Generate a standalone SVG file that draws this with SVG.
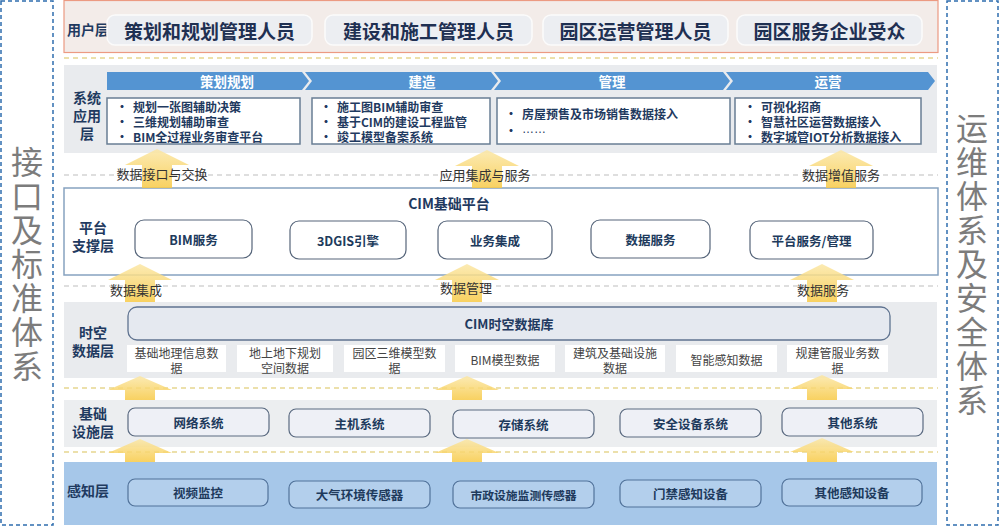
<svg xmlns="http://www.w3.org/2000/svg" width="1000" height="527" viewBox="0 0 1000 527">
<defs>
<linearGradient id="ag" x1="0" y1="0" x2="0" y2="1">
<stop offset="0" stop-color="#fbe7a6"/>
<stop offset="1" stop-color="#f7c945"/>
</linearGradient>
</defs>
<style>
text{font-family:'Noto Sans CJK SC','Noto Sans',sans-serif;dominant-baseline:central;text-anchor:middle}
.side{font-size:32px;fill:#7c7c7c;writing-mode:vertical-rl;letter-spacing:2px}
.sideBox{fill:none;stroke:#2f6eae;stroke-width:1.5;stroke-dasharray:4 3}
.lay{font-size:14px;font-weight:bold;fill:#1f3a60}
.user{font-size:19px;font-weight:bold;fill:#1f3052}
.pill{fill:#eceef2;stroke:#fbfbfb;stroke-width:1.5}
.band{fill:#e9ebee}
.chev{fill:#5494d2}
.chevT{font-size:13.5px;font-weight:bold;fill:#ffffff}
.cbox{fill:#ffffff;stroke:#687e94;stroke-width:1.5}
.bul{font-size:12px;font-weight:bold;fill:#1f3a60;text-anchor:start}
.dash-g{stroke:#bdbdbd;stroke-width:1;stroke-dasharray:5 4;fill:none}
.dash-y{stroke:#e6d690;stroke-width:1.5;stroke-dasharray:5 4;fill:none}
.arr{fill:url(#ag);opacity:0.85}
.lbl{font-size:13px;fill:#333333}
.pnode{fill:#ffffff;stroke:#56657a;stroke-width:1.2}
.ntxt{font-size:12.5px;font-weight:bold;fill:#203a5c}
.ditem{fill:#ffffff}
.dtxt{font-size:12px;fill:#444444}
.inode{fill:#eef0f6;stroke:#5a6a80;stroke-width:1.2}
.snode{fill:#b3cfec;stroke:#51729a;stroke-width:1.2}
</style>

<!-- side columns -->
<g id="left-standards">
<rect class="sideBox" x="1" y="1" width="52" height="524"/>
<text class="side" x="27" y="265">接口及标准体系</text>
</g>
<g id="right-ops-security">
<rect class="sideBox" x="947" y="1" width="51" height="524"/>
<text class="side" x="972" y="265">运维体系及安全体系</text>
</g>

<!-- user layer -->
<g id="user-layer">
<rect x="64" y="0.5" width="874" height="52" fill="#f3ece9" stroke="#ec9a82" stroke-width="1.2"/>
<text class="lay" x="88" y="29">用户层</text>
<g id="u1"><rect class="pill" x="107" y="15" width="205" height="30" rx="8"/><text class="user" x="209.5" y="30">策划和规划管理人员</text></g>
<g id="u2"><rect class="pill" x="325" y="15" width="207" height="30" rx="8"/><text class="user" x="428.5" y="30">建设和施工管理人员</text></g>
<g id="u3"><rect class="pill" x="543" y="15" width="185" height="30" rx="8"/><text class="user" x="635.5" y="30">园区运营管理人员</text></g>
<g id="u4"><rect class="pill" x="737" y="15" width="185" height="30" rx="8"/><text class="user" x="829.5" y="30">园区服务企业受众</text></g>
</g>

<!-- bands -->
<g id="bands">
<rect class="band" x="64" y="65" width="873" height="88"/>
<rect x="64" y="188" width="874" height="87" fill="#ffffff" stroke="#86a2c0" stroke-width="1.5"/>
<rect class="band" x="64" y="302" width="873" height="76"/>
<rect x="64" y="400" width="873" height="47" fill="#eceef0"/>
<rect x="64" y="462" width="873" height="63" fill="#a6c7e9"/>
</g>

<!-- connectors: dashed separators and up arrows -->
<g id="connectors">
<line class="dash-y" x1="64" y1="58" x2="938" y2="58"/>
<line class="dash-g" x1="64" y1="175" x2="938" y2="175"/>
<line class="dash-g" x1="64" y1="286" x2="938" y2="286"/>
<line class="dash-y" x1="64" y1="388" x2="938" y2="388"/>
<line class="dash-y" x1="64" y1="452" x2="938" y2="452"/>

<path class="arr" d="M157,149 L189,165 L172,165 L172,188 L142,188 L142,165 L125,165 Z"/>
<path class="arr" d="M487,150 L519,166 L502,166 L502,188 L472,188 L472,166 L455,166 Z"/>
<path class="arr" d="M841,150 L873,166 L856,166 L856,188 L826,188 L826,166 L809,166 Z"/>

<path class="arr" d="M140,264 L172,280 L155,280 L155,302 L125,302 L125,280 L108,280 Z"/>
<path class="arr" d="M467,264 L499,280 L482,280 L482,302 L452,302 L452,280 L435,280 Z"/>
<path class="arr" d="M822,264 L854,280 L837,280 L837,302 L807,302 L807,280 L790,280 Z"/>

<path class="arr" d="M140,376 L172,390 L155,390 L155,400 L125,400 L125,390 L108,390 Z"/>
<path class="arr" d="M467,376 L499,390 L482,390 L482,400 L452,400 L452,390 L435,390 Z"/>
<path class="arr" d="M822,375 L854,389 L837,389 L837,400 L807,400 L807,389 L790,389 Z"/>

<path class="arr" d="M140,439 L172,453 L155,453 L155,462 L125,462 L125,453 L108,453 Z"/>
<path class="arr" d="M467,439 L499,453 L482,453 L482,462 L452,462 L452,453 L435,453 Z"/>
<path class="arr" d="M822,438 L854,452 L837,452 L837,462 L807,462 L807,452 L790,452 Z"/>

<text class="lbl" x="162" y="173">数据接口与交换</text>
<text class="lbl" x="485" y="174">应用集成与服务</text>
<text class="lbl" x="841" y="174">数据增值服务</text>
<text class="lbl" x="136" y="289">数据集成</text>
<text class="lbl" x="466" y="287">数据管理</text>
<text class="lbl" x="823" y="289">数据服务</text>
</g>

<!-- system application layer -->
<g id="app-layer">
<text class="lay"><tspan x="87" y="97">系统</tspan><tspan x="87" y="115">应用</tspan><tspan x="87" y="133">层</tspan></text>
<g id="stage-plan">
<polygon class="chev" points="107,72 302,72 309,81 302,90 107,90"/>
<text class="chevT" x="227" y="81">策划规划</text>
<rect class="cbox" x="107" y="98" width="193" height="46"/>
<text class="bul"><tspan x="116" y="106">•</tspan><tspan x="133" y="106">规划一张图辅助决策</tspan><tspan x="116" y="121">•</tspan><tspan x="133" y="121">三维规划辅助审查</tspan><tspan x="116" y="136">•</tspan><tspan x="133" y="136">BIM全过程业务审查平台</tspan></text>
</g>
<g id="stage-build">
<polygon class="chev" points="305,72 491,72 498,81 491,90 305,90 312,81"/>
<text class="chevT" x="422" y="81">建造</text>
<rect class="cbox" x="312" y="98" width="178" height="46"/>
<text class="bul"><tspan x="320" y="106">•</tspan><tspan x="337" y="106">施工图BIM辅助审查</tspan><tspan x="320" y="121">•</tspan><tspan x="337" y="121">基于CIM的建设工程监管</tspan><tspan x="320" y="136">•</tspan><tspan x="337" y="136">竣工模型备案系统</tspan></text>
</g>
<g id="stage-manage">
<polygon class="chev" points="494,72 723,72 730,81 723,90 494,90 501,81"/>
<text class="chevT" x="612" y="81">管理</text>
<rect class="cbox" x="497" y="98" width="233" height="46"/>
<text class="bul"><tspan x="505" y="113">•</tspan><tspan x="522" y="113">房屋预售及市场销售数据接入</tspan><tspan x="505" y="130">•</tspan><tspan x="522" y="129" style="font-family:'Liberation Sans',sans-serif;font-weight:normal">……</tspan></text>
</g>
<g id="stage-operate">
<polygon class="chev" points="726,72 928,72 935,81 928,90 726,90 733,81"/>
<text class="chevT" x="828" y="81">运营</text>
<rect class="cbox" x="735" y="98" width="186" height="46"/>
<text class="bul"><tspan x="744" y="105.5">•</tspan><tspan x="761" y="105.5">可视化招商</tspan><tspan x="744" y="120.5">•</tspan><tspan x="761" y="120.5">智慧社区运营数据接入</tspan><tspan x="744" y="135.5">•</tspan><tspan x="761" y="135.5">数字城管IOT分析数据接入</tspan></text>
</g>
</g>

<!-- platform layer -->
<g id="platform-layer">
<text class="lay" x="449" y="203">CIM基础平台</text>
<text class="lay"><tspan x="93" y="227">平台</tspan><tspan x="93" y="245">支撑层</tspan></text>
<g id="p1"><rect class="pnode" x="135" y="220" width="117" height="38" rx="9"/><text class="ntxt" x="193.5" y="239">BIM服务</text></g>
<g id="p2"><rect class="pnode" x="290" y="221" width="116" height="38" rx="9"/><text class="ntxt" x="348" y="240">3DGIS引擎</text></g>
<g id="p3"><rect class="pnode" x="438" y="221" width="114" height="38" rx="9"/><text class="ntxt" x="495" y="240">业务集成</text></g>
<g id="p4"><rect class="pnode" x="591" y="220" width="119" height="38" rx="9"/><text class="ntxt" x="650.5" y="239">数据服务</text></g>
<g id="p5"><rect class="pnode" x="750" y="221" width="123" height="38" rx="9"/><text class="ntxt" x="811.5" y="240">平台服务/管理</text></g>
</g>

<!-- spatio-temporal data layer -->
<g id="data-layer">
<text class="lay"><tspan x="93" y="332">时空</tspan><tspan x="93" y="350">数据层</tspan></text>
<g id="cimdb"><rect x="128" y="307" width="762" height="33" rx="9" fill="#e5e9f0" stroke="#5f7390" stroke-width="1.3"/><text class="lay" x="509" y="323" style="font-size:13px">CIM时空数据库</text></g>
<g id="d1"><rect class="ditem" x="127" y="345" width="99" height="27"/><text class="dtxt"><tspan x="176.5" y="352">基础地理信息数</tspan><tspan x="176.5" y="367">据</tspan></text></g>
<g id="d2"><rect class="ditem" x="237" y="345" width="96" height="27"/><text class="dtxt"><tspan x="285" y="352">地上地下规划</tspan><tspan x="285" y="367">空间数据</tspan></text></g>
<g id="d3"><rect class="ditem" x="344" y="345" width="101" height="27"/><text class="dtxt"><tspan x="394.5" y="352">园区三维模型数</tspan><tspan x="394.5" y="367">据</tspan></text></g>
<g id="d4"><rect class="ditem" x="455" y="345" width="100" height="27"/><text class="dtxt" x="505" y="359">BIM模型数据</text></g>
<g id="d5"><rect class="ditem" x="565" y="345" width="100" height="27"/><text class="dtxt"><tspan x="615" y="352">建筑及基础设施</tspan><tspan x="615" y="367">数据</tspan></text></g>
<g id="d6"><rect class="ditem" x="676" y="345" width="101" height="27"/><text class="dtxt" x="726.5" y="359">智能感知数据</text></g>
<g id="d7"><rect class="ditem" x="787" y="345" width="101" height="27"/><text class="dtxt"><tspan x="837.5" y="352">规建管服业务数</tspan><tspan x="837.5" y="367">据</tspan></text></g>
</g>

<!-- infrastructure layer -->
<g id="infra-layer">
<text class="lay"><tspan x="93" y="413">基础</tspan><tspan x="93" y="431">设施层</tspan></text>
<g id="i1"><rect class="inode" x="128" y="408" width="141" height="28" rx="7"/><text class="ntxt" x="198.5" y="422">网络系统</text></g>
<g id="i2"><rect class="inode" x="289" y="409" width="141" height="28" rx="7"/><text class="ntxt" x="359.5" y="423">主机系统</text></g>
<g id="i3"><rect class="inode" x="453" y="410" width="141" height="28" rx="7"/><text class="ntxt" x="523.5" y="424">存储系统</text></g>
<g id="i4"><rect class="inode" x="620" y="409" width="141" height="28" rx="7"/><text class="ntxt" x="690.5" y="423">安全设备系统</text></g>
<g id="i5"><rect class="inode" x="782" y="408" width="141" height="28" rx="7"/><text class="ntxt" x="852.5" y="422">其他系统</text></g>
</g>

<!-- perception layer -->
<g id="sense-layer">
<text class="lay" x="88" y="490">感知层</text>
<g id="s1"><rect class="snode" x="128" y="479" width="140" height="27" rx="7"/><text class="ntxt" x="198" y="492.5">视频监控</text></g>
<g id="s2"><rect class="snode" x="289" y="481" width="141" height="27" rx="7"/><text class="ntxt" x="359.5" y="494.5">大气环境传感器</text></g>
<g id="s3"><rect class="snode" x="453" y="481" width="141" height="27" rx="7"/><text class="ntxt" x="523.5" y="494.5" style="font-size:11.8px">市政设施监测传感器</text></g>
<g id="s4"><rect class="snode" x="620" y="480" width="141" height="27" rx="7"/><text class="ntxt" x="690.5" y="493.5">门禁感知设备</text></g>
<g id="s5"><rect class="snode" x="782" y="479" width="140" height="27" rx="7"/><text class="ntxt" x="852" y="492.5">其他感知设备</text></g>
</g>
</svg>
